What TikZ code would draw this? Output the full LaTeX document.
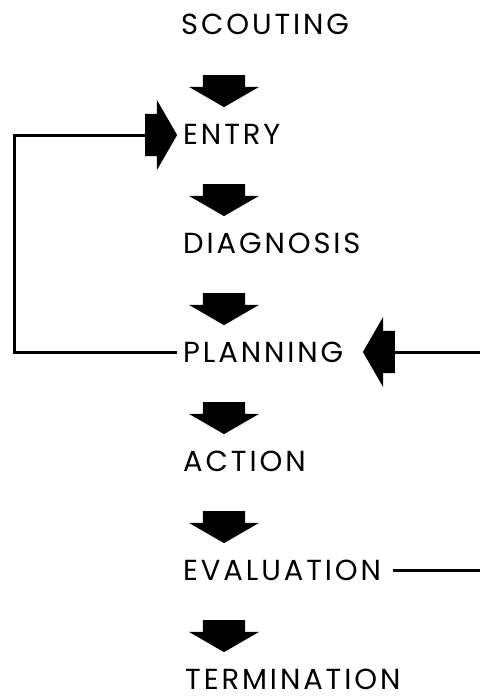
\documentclass[tikz,border=0pt]{standalone}
\usepackage{fontspec}
\newfontfamily\stagefont[LetterSpace=10]{Poppins}
\usetikzlibrary{
    shapes.arrows,
    positioning,
    calc
}

\tikzset{
    stage/.style={anchor=west, inner sep=0pt, font=\stagefont\fontsize{29}{34}\selectfont},
    blockarrow/.style={single arrow, fill=black, draw=none,
        inner xsep=0pt, inner ysep=21pt,
        minimum height=32pt, minimum width=70pt,
        single arrow head extend=14pt, single arrow tip angle=120},
    flow/.style={line width=3pt}
}

\begin{document}
\begin{tikzpicture}[x=1pt, y=-1pt]
                \useasboundingbox (0,0) rectangle (480,698);

                \node[stage] (scouting) at (181,24) {SCOUTING};
                \node[stage] (entry) at (183,134) {ENTRY};
                \node[stage] (diagnosis) at (183,243) {DIAGNOSIS};
                \node[stage] (planning) at (183,352) {PLANNING};
                \node[stage] (action) at (183,461) {ACTION};
                \node[stage] (evaluation) at (183,570) {EVALUATION};
                \node[stage] (termination) at (185,679) {TERMINATION};

                \node[blockarrow, rotate=-90] (a1) at (224,85) {};
                \node[blockarrow, rotate=-90] (a2) at (224,194) {};
                \node[blockarrow, rotate=-90] (a3) at (224,303) {};
                \node[blockarrow, rotate=-90] (a4) at (224,412) {};
                \node[blockarrow, rotate=-90] (a5) at (224,521) {};
                \node[blockarrow, rotate=-90] (a6) at (224,630) {};

                \node[blockarrow] (entryin) at (155,135) {};
                \node[blockarrow, rotate=180] (replan) at (385,352) {};

                \coordinate (loop) at (14,243);
                \coordinate (fbout) at (480,570);
                \coordinate (fbin) at (480,352);

                \draw[flow] ([xshift=-6pt]planning.west) -| (loop) |- (entryin.tail);
                \draw[flow] ([xshift=12pt]evaluation.east) -- (fbout);
                \draw[flow] (fbin) -- (replan.tail);
            \end{tikzpicture}
\end{document}
